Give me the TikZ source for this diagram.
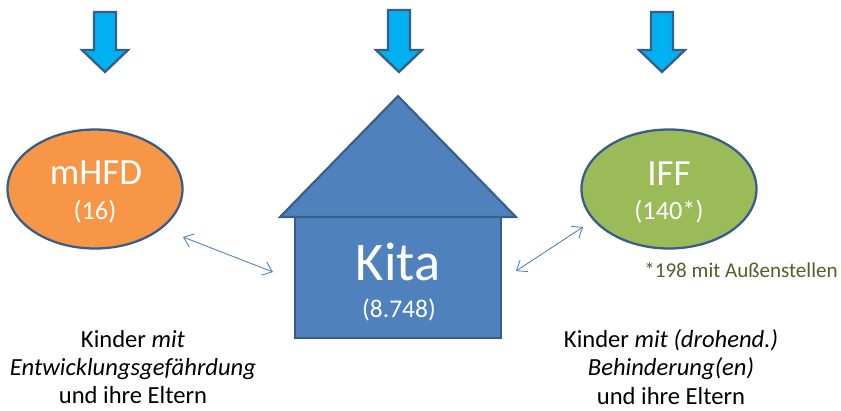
\documentclass[tikz,border=0pt]{standalone}
\usepackage{fontspec}
\setmainfont{Carlito}
\usetikzlibrary{shapes.geometric,arrows.meta}

\definecolor{arrowfill}{HTML}{00B0F0}
\definecolor{darkline}{HTML}{385D8A}
\definecolor{kitablue}{HTML}{4F81BD}
\definecolor{hfdorange}{HTML}{F79646}
\definecolor{iffgreen}{HTML}{9BBB59}
\definecolor{notegreen}{HTML}{4F6228}

\begin{document}
\begin{tikzpicture}[x=0.02cm, y=-0.02cm]
    % --- CONFIGURAZIONE ---
    \tikzset{
        down_arrow/.style={fill=arrowfill, draw=darkline, line width=1.3pt, line join=miter},
        ellipse_style/.style={ellipse, draw=darkline, line width=1.3pt, minimum width=175*0.02cm, minimum height=119*0.02cm, inner sep=0pt},
        house_style/.style={fill=kitablue, draw=darkline, line width=1.2pt, line join=miter},
        link_style/.style={kitablue, line width=0.5pt, {Straight Barb[length=5pt,width=8pt]}-{Straight Barb[length=5pt,width=8pt]}},
        label_style/.style={align=center, font=\fontsize{14}{16}\selectfont}
    }

    \useasboundingbox (0,0) rectangle (841,410);

    % ===================================================
    % 1. FRECCE IN ALTO
    % ===================================================
    \foreach \x/\t in {105/12, 399/10, 662/12} {
        \draw[down_arrow] (\x-11,\t) -- (\x+11,\t) -- (\x+11,50) -- (\x+23,50)
            -- (\x,72) -- (\x-23,50) -- (\x-11,50) -- cycle;
    }

    % ===================================================
    % 2. KITA (Casa)
    % ===================================================
    \draw[house_style] (295,217) rectangle (501,338);
    \draw[house_style] (280,217) -- (398,96) -- (516,217) -- cycle;
    \node[text=white, font=\fontsize{31}{31}\selectfont] (kita) at (398,262) {Kita};
    \node[text=white, font=\fontsize{14.5}{14.5}\selectfont] (kitanum) at (399,310) {(8.748)};

    % ===================================================
    % 3. mHFD e IFF
    % ===================================================
    \node[ellipse_style, fill=hfdorange] (mhfd) at (95,189) {};
    \node[text=white, font=\fontsize{21}{21}\selectfont] (mhfdname) at (96,173) {mHFD};
    \node[text=white, font=\fontsize{15}{15}\selectfont] (mhfdnum) at (95,212) {(16)};

    \node[ellipse_style, fill=iffgreen] (iff) at (669,189) {};
    \node[text=white, font=\fontsize{21}{21}\selectfont] (iffname) at (669,174) {IFF};
    \node[text=white, font=\fontsize{15}{15}\selectfont] (iffnum) at (669,212) {(140*)};
    \node[text=notegreen, font=\fontsize{12}{14}\selectfont] (note) at (741,270) {*198 mit Außenstellen};

    % Collegamenti
    \coordinate (mhfdlink) at (183,237);
    \coordinate (kitaleft) at (273,272);
    \coordinate (kitaright) at (516,271);
    \coordinate (ifflink) at (583,227);
    \draw[link_style] (mhfdlink) -- (kitaleft);
    \draw[link_style] (kitaright) -- (ifflink);

    % ===================================================
    % 4. TESTI IN BASSO
    % ===================================================
    \node[label_style] (leftlabel) at (133,367) {Kinder \textit{mit}\\ \textit{Entwicklungsgefährdung}\\ und ihre Eltern};
    \node[label_style] (rightlabel) at (671,367) {Kinder \textit{mit (drohend.)}\\ \textit{Behinderung(en)}\\ und ihre Eltern};

\end{tikzpicture}
\end{document}
